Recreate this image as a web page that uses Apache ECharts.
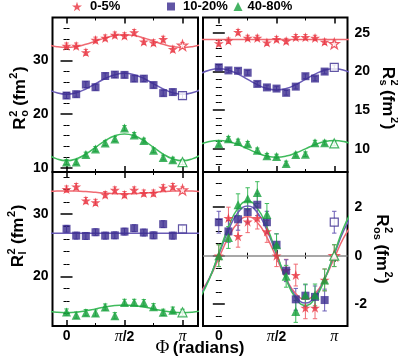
<!DOCTYPE html>
<html><head><meta charset="utf-8">
<script src="https://cdn.jsdelivr.net/npm/echarts@6/dist/echarts.min.js"></script>
<style>html,body{margin:0;padding:0;background:#fff}#c{width:398px;height:360px}</style>
</head><body><div id="c"></div>
<script>
// ---- data (Φ in units of π/12) ----
const centralities = ['0-5%', '10-20%', '40-80%'];
const phiSteps = [0,1,2,3,4,5,6,7,8,9,10,11,12];
const curveSteps = [-2,-1,0,1,2,3,4,5,6,7,8,9,10,11,12,13,14];
const xTickLabels = ['0', 'π/2', 'π'];

const ro_0_5   = [32.7, 32.7, 31.5, 33.8, 34.2, 34.75, 34.6, 35.2, 33.5, 33.3, 33.95, 32.1, 32.8];
const ro_10_20 = [23.45, 23.7, 25.5, 25.0, 27.1, 27.35, 27.3, 26.6, 26.6, 25.4, 23.9, 24.1, 23.45];
const ro_40_80 = [11.05, 11.05, 12.45, 13.5, 14.6, 15.35, 17.4, 16.1, 15.05, 13.25, 11.9, 11.5, 11.05];
const rs_0_5   = [23.65, 24.0, 25.1, 24.35, 24.35, 23.75, 24.2, 23.95, 24.45, 24.45, 24.35, 23.85, 23.6];
const rs_10_20 = [20.55, 20.15, 20.1, 19.85, 18.4, 17.95, 17.8, 17.25, 18.05, 19.4, 19.1, 20.0, 20.55];
const rs_40_80 = [10.65, 11.3, 10.95, 10.65, 9.8, 9.1, 9.0, 8.1, 9.25, 9.3, 10.8, 10.8, 10.7];
const rl_0_5   = [34.05, 34.45, 32.2, 31.9, 33.15, 33.9, 33.15, 33.9, 33.4, 33.4, 34.25, 34.45, 33.9];
const rl_10_20 = [27.65, 26.55, 26.5, 27.1, 26.55, 26.6, 27.2, 27.75, 27.05, 26.6, 28.4, 26.55, 27.65];
const rl_40_80 = [14.25, 13.75, 14.15, 14.1, 15.05, 13.65, 15.8, 15.8, 15.75, 15.1, 14.2, 14.55, 14.2];
const ros_0_5   = [0.0, 1.55, 0.8, 1.4, 1.55, 1.0, 0.0, -0.6, -0.8, -2.15, -2.15, -1.0, 0.0];
const ros_10_20 = [1.38, 1.0, 1.5, 1.8, 2.1, 1.38, 0.45, -0.62, -1.8, -1.65, -1.7, -1.83, 1.38];
const ros_40_80 = [0.0, 0.75, 2.1, 2.35, 2.6, 1.7, 0.45, -0.85, -2.3, -1.62, -1.62, -1.0, 0.0];

const ro_err  = [0.55, 0.55, 0.45];
const rs_err  = [0.35, 0.3, 0.3];
const rl_err  = [0.5, 0.55, 0.5];
const ros_err = [0.45, 0.45, 0.45];

// fit curves sampled at curveSteps
const roFit_0_5   = [33.0, 32.56, 32.4, 32.56, 33.0, 33.6, 34.2, 34.64, 34.8, 34.64, 34.2, 33.6, 33.0, 32.56, 32.4, 32.56, 33.0];
const roFit_10_20 = [24.68, 23.96, 23.7, 23.96, 24.68, 25.65, 26.63, 27.34, 27.6, 27.34, 26.63, 25.65, 24.68, 23.96, 23.7, 23.96, 24.68];
const roFit_40_80 = [12.55, 11.64, 11.3, 11.64, 12.55, 13.8, 15.05, 15.97, 16.3, 15.97, 15.05, 13.8, 12.55, 11.64, 11.3, 11.64, 12.55];
const rsFit_0_5   = [24.15, 24.15, 24.15, 24.15, 24.15, 24.15, 24.15, 24.15, 24.15, 24.15, 24.15, 24.15, 24.15, 24.15, 24.15, 24.15, 24.15];
const rsFit_10_20 = [19.67, 20.17, 20.35, 20.17, 19.67, 18.99, 18.31, 17.81, 17.63, 17.81, 18.31, 18.99, 19.67, 20.17, 20.35, 20.17, 19.67];
const rsFit_40_80 = [10.54, 10.94, 11.08, 10.94, 10.54, 10.0, 9.46, 9.06, 8.92, 9.06, 9.46, 10.0, 10.54, 10.94, 11.08, 10.94, 10.54];
const rlFit_0_5   = [33.64, 33.73, 33.76, 33.73, 33.64, 33.52, 33.4, 33.31, 33.28, 33.31, 33.4, 33.52, 33.64, 33.73, 33.76, 33.73, 33.64];
const rlFit_10_20 = [26.95, 26.95, 26.95, 26.95, 26.95, 26.95, 26.95, 26.95, 26.95, 26.95, 26.95, 26.95, 26.95, 26.95, 26.95, 26.95, 26.95];
const rlFit_40_80 = [14.45, 14.22, 14.14, 14.22, 14.45, 14.76, 15.07, 15.3, 15.38, 15.3, 15.07, 14.76, 14.45, 14.22, 14.14, 14.22, 14.45];
const rosFit_0_5   = [-1.57, -0.95, -0.1, 0.75, 1.37, 1.6, 1.37, 0.75, -0.1, -0.95, -1.57, -1.8, -1.57, -0.95, -0.1, 0.75, 1.37];
const rosFit_10_20 = [-1.68, -0.95, 0.05, 1.05, 1.78, 2.05, 1.78, 1.05, 0.05, -0.95, -1.68, -1.95, -1.68, -0.95, 0.05, 1.05, 1.78];
const rosFit_40_80 = [-1.76, -0.98, 0.1, 1.18, 1.96, 2.25, 1.96, 1.18, 0.1, -0.98, -1.76, -2.05, -1.76, -0.98, 0.1, 1.18, 1.96];

// ---- styling ----
const PI = Math.PI;
const STAR = 'path://M50,2 L61.8,37.6 L99,37.6 L69,59.6 L80.4,95 L50,73 L19.6,95 L31,59.6 L1,37.6 L38.2,37.6 Z';
const symbols = [STAR, 'rect', 'triangle'];
const symSizes = [10, 8, 9];
const markColors = ['#e8323e', '#3a2a8e', '#17a03c'];
const lineColors = ['#f06a72', '#6a5cb6', '#3fbb5c'];
const SANS = 'Liberation Sans';

const panels = [
  {grid:{left:52.5, top:17.5, width:145.5, height:154.5}, xr:[-0.38, PI+0.42], yr:[9.2, 38],
   yMajor:[10,20,30], yMinor:[12,14,16,18,22,24,26,28,32,34,36], side:'left', xLab:false,
   data:[ro_0_5, ro_10_20, ro_40_80], fits:[roFit_0_5, roFit_10_20, roFit_40_80], errs:ro_err},
  {grid:{left:203, top:17.5, width:144.5, height:154.5}, xr:[-0.43, PI+0.36], yr:[7, 27],
   yMajor:[10,15,20,25], yMinor:[8,9,11,12,13,14,16,17,18,19,21,22,23,24,26], side:'right', xLab:false,
   data:[rs_0_5, rs_10_20, rs_40_80], fits:[rsFit_0_5, rsFit_10_20, rsFit_40_80], errs:rs_err},
  {grid:{left:52.5, top:172, width:145.5, height:154}, xr:[-0.38, PI+0.42], yr:[12, 36.8],
   yMajor:[20,30], yMinor:[14,16,18,22,24,26,28,32,34,36], side:'left', xLab:true,
   data:[rl_0_5, rl_10_20, rl_40_80], fits:[rlFit_0_5, rlFit_10_20, rlFit_40_80], errs:rl_err},
  {grid:{left:203, top:172, width:144.5, height:154}, xr:[-0.43, PI+0.36], yr:[-2.9, 3.45],
   yMajor:[-2,0,2], yMinor:[-2.5,-1.5,-1,-0.5,0.5,1,1.5,2.5,3], side:'right', xLab:true, zero:true,
   data:[ros_0_5, ros_10_20, ros_40_80], fits:[rosFit_0_5, rosFit_10_20, rosFit_40_80], errs:ros_err}
];

const xMajor = [0, PI/2, PI];
const xMinor = [PI/4, 3*PI/4];

const grids = [], xAxes = [], yAxes = [], series = [];
function xLabelFmt(v) {
  if (Math.abs(v) < 1e-6) return '{n|' + xTickLabels[0] + '}';
  if (Math.abs(v - PI/2) < 1e-6) return '{p|π}{n|/2}';
  return '{p|' + xTickLabels[2] + '}';
}

panels.forEach((p, g) => {
  grids.push(Object.assign({show:true, borderColor:'#000', borderWidth:2, backgroundColor:'transparent', containLabel:false}, p.grid));
  const mkX = (pos, vals, len, lab) => ({
    type:'value', gridIndex:g, position:pos, min:p.xr[0], max:p.xr[1],
    axisLine:{show:false}, splitLine:{show:false},
    axisTick:{show:true, inside:true, length:len, customValues:vals, lineStyle:{color:'#000', width: len > 4 ? 1.5 : 1}},
    axisLabel: lab ? {show:true, customValues:xMajor, margin:3, formatter:xLabelFmt,
      rich:{n:{fontFamily:SANS, fontWeight:'bold', fontSize:14, color:'#000'},
            p:{fontFamily:'Liberation Serif', fontStyle:'italic', fontSize:16, color:'#000'}}} : {show:false}
  });
  xAxes.push(mkX('bottom', xMajor, 6, p.xLab));
  xAxes.push(mkX('top', xMajor, 6, false));
  xAxes.push(mkX('bottom', xMinor, 3, false));
  xAxes.push(mkX('top', xMinor, 3, false));
  const mkY = (pos, vals, len, lab) => ({
    type:'value', gridIndex:g, position:pos, min:p.yr[0], max:p.yr[1],
    axisLine:{show:false}, splitLine:{show:false},
    axisTick:{show:true, inside:true, length:len, customValues:vals, lineStyle:{color:'#000', width: len > 4 ? 1.5 : 1}},
    axisLabel: lab ? {show:true, customValues:p.yMajor, margin: pos === 'left' ? 4 : 7,
      fontFamily:SANS, fontWeight:'bold', fontSize:14, color:'#000'} : {show:false}
  });
  yAxes.push(mkY('left', p.yMajor, 6, p.side === 'left'));
  yAxes.push(mkY('right', p.yMajor, 6, p.side === 'right'));
  yAxes.push(mkY('left', p.yMinor, 3, false));
  yAxes.push(mkY('right', p.yMinor, 3, false));

  const xi = g*4, yi = g*4;
  p.data.forEach((vals, c) => {
    const lc = lineColors[c], mc = markColors[c], err = p.errs[c];
    series.push({
      type:'custom', xAxisIndex:xi, yAxisIndex:yi, silent:true, z:2,
      encode:{x:0, y:1},
      data: phiSteps.map((k, i) => [k*PI/12, vals[i], err]),
      renderItem: function (params, api) {
        const x = api.value(0), y = api.value(1), e = api.value(2);
        const a = api.coord([x, y - e]), b = api.coord([x, y + e]);
        const w = 2.2, st = {stroke: lc, lineWidth: 1};
        return {type:'group', children:[
          {type:'line', shape:{x1:a[0], y1:a[1], x2:b[0], y2:b[1]}, style:st},
          {type:'line', shape:{x1:a[0]-w, y1:a[1], x2:a[0]+w, y2:a[1]}, style:st},
          {type:'line', shape:{x1:b[0]-w, y1:b[1], x2:b[0]+w, y2:b[1]}, style:st}
        ]};
      }
    });
    const fitSeries = {
      type:'line', xAxisIndex:xi, yAxisIndex:yi, silent:true, z:3, smooth:true, showSymbol:false, symbol:'none',
      data: curveSteps.map((k, i) => [k*PI/12, p.fits[c][i]]),
      lineStyle:{color: lc, width:1.5}
    };
    if (p.zero && c === 0) {
      fitSeries.markLine = {silent:true, symbol:['none','none'], label:{show:false},
        lineStyle:{color:'#8a8a8a', width:1.5, type:'solid'}, data:[{yAxis:0}], z:1};
    }
    series.push(fitSeries);
    series.push({
      type:'scatter', name: centralities[c], xAxisIndex:xi, yAxisIndex:yi, z:4,
      symbol: symbols[c], symbolSize: symSizes[c],
      itemStyle:{color: mc},
      data: phiSteps.map((k, i) => {
        const d = {value:[k*PI/12, vals[i]]};
        if (i === phiSteps.length - 1) d.itemStyle = {color:'#fff', borderColor: mc, borderWidth:1.2};
        return d;
      })
    });
  });
});

// rotated axis titles
const txt = (t, x, y, size) => ({type:'text', x:x, y:y, style:{text:t, fontFamily:SANS, fontWeight:'bold', fontSize:size, fill:'#000', align:'left', verticalAlign:'middle'}});
function yTitle(cx, cy, sub, subW, rot) {
  const rW = 12.3, supW = 6.1;
  const a = rW + 0.5 + Math.max(subW, supW) + 4.5;
  const total = a + 26.5 + 0.5 + supW + 0.5 + 5.7;
  const o = -total / 2;
  return {type:'group', x:cx, y:cy, rotation:rot, children:[
    txt('R', o, 0, 17),
    txt('2', o + rW + 0.5, -6, 11),
    txt(sub, o + rW + 0.5, 5, 11),
    txt('(fm', o + a, 0, 17),
    txt('2', o + a + 27, -6, 11),
    txt(')', o + a + 27 + supW + 0.5, 0, 17)
  ]};
}
const graphic = [
  yTitle(20, 98, 'o', 6.7, PI/2),
  yTitle(18, 236, 'l', 3.1, PI/2),
  yTitle(388, 98, 's', 6.1, -PI/2),
  yTitle(382, 249, 'os', 12.8, -PI/2),
  {type:'text', x:200, y:348, style:{text:'{f|Φ} {t|(radians)}', align:'center', verticalAlign:'middle',
    rich:{f:{fontFamily:'Liberation Serif', fontSize:19, fill:'#000', fontWeight:'normal'},
          t:{fontFamily:SANS, fontWeight:'bold', fontSize:17, fill:'#000'}}}}
];

const legendText = {fontFamily:SANS, fontWeight:'bold', fontSize:13, color:'#000'};
const legendBase = {top:0, padding:0, selectedMode:false, itemGap:0};
const legends = [
  Object.assign({}, legendBase, {left:72, itemWidth:10, itemHeight:10, data:[{name:centralities[0], icon:STAR}],
    textStyle:Object.assign({}, legendText, {padding:[0,0,0,3]})}),
  Object.assign({}, legendBase, {left:167, itemWidth:8, itemHeight:8, data:[{name:centralities[1], icon:'rect'}],
    textStyle:Object.assign({}, legendText, {padding:[0,0,0,3]})}),
  Object.assign({}, legendBase, {left:233.5, itemWidth:9, itemHeight:9, data:[{name:centralities[2], icon:'triangle'}],
    textStyle:legendText})
];

const chart = echarts.init(document.getElementById('c'), null, {renderer:'canvas'});
chart.setOption({
  animation:false,
  backgroundColor:'#fff',
  legend: legends,
  grid: grids,
  xAxis: xAxes,
  yAxis: yAxes,
  series: series,
  graphic: graphic
});
</script>
</body></html>
